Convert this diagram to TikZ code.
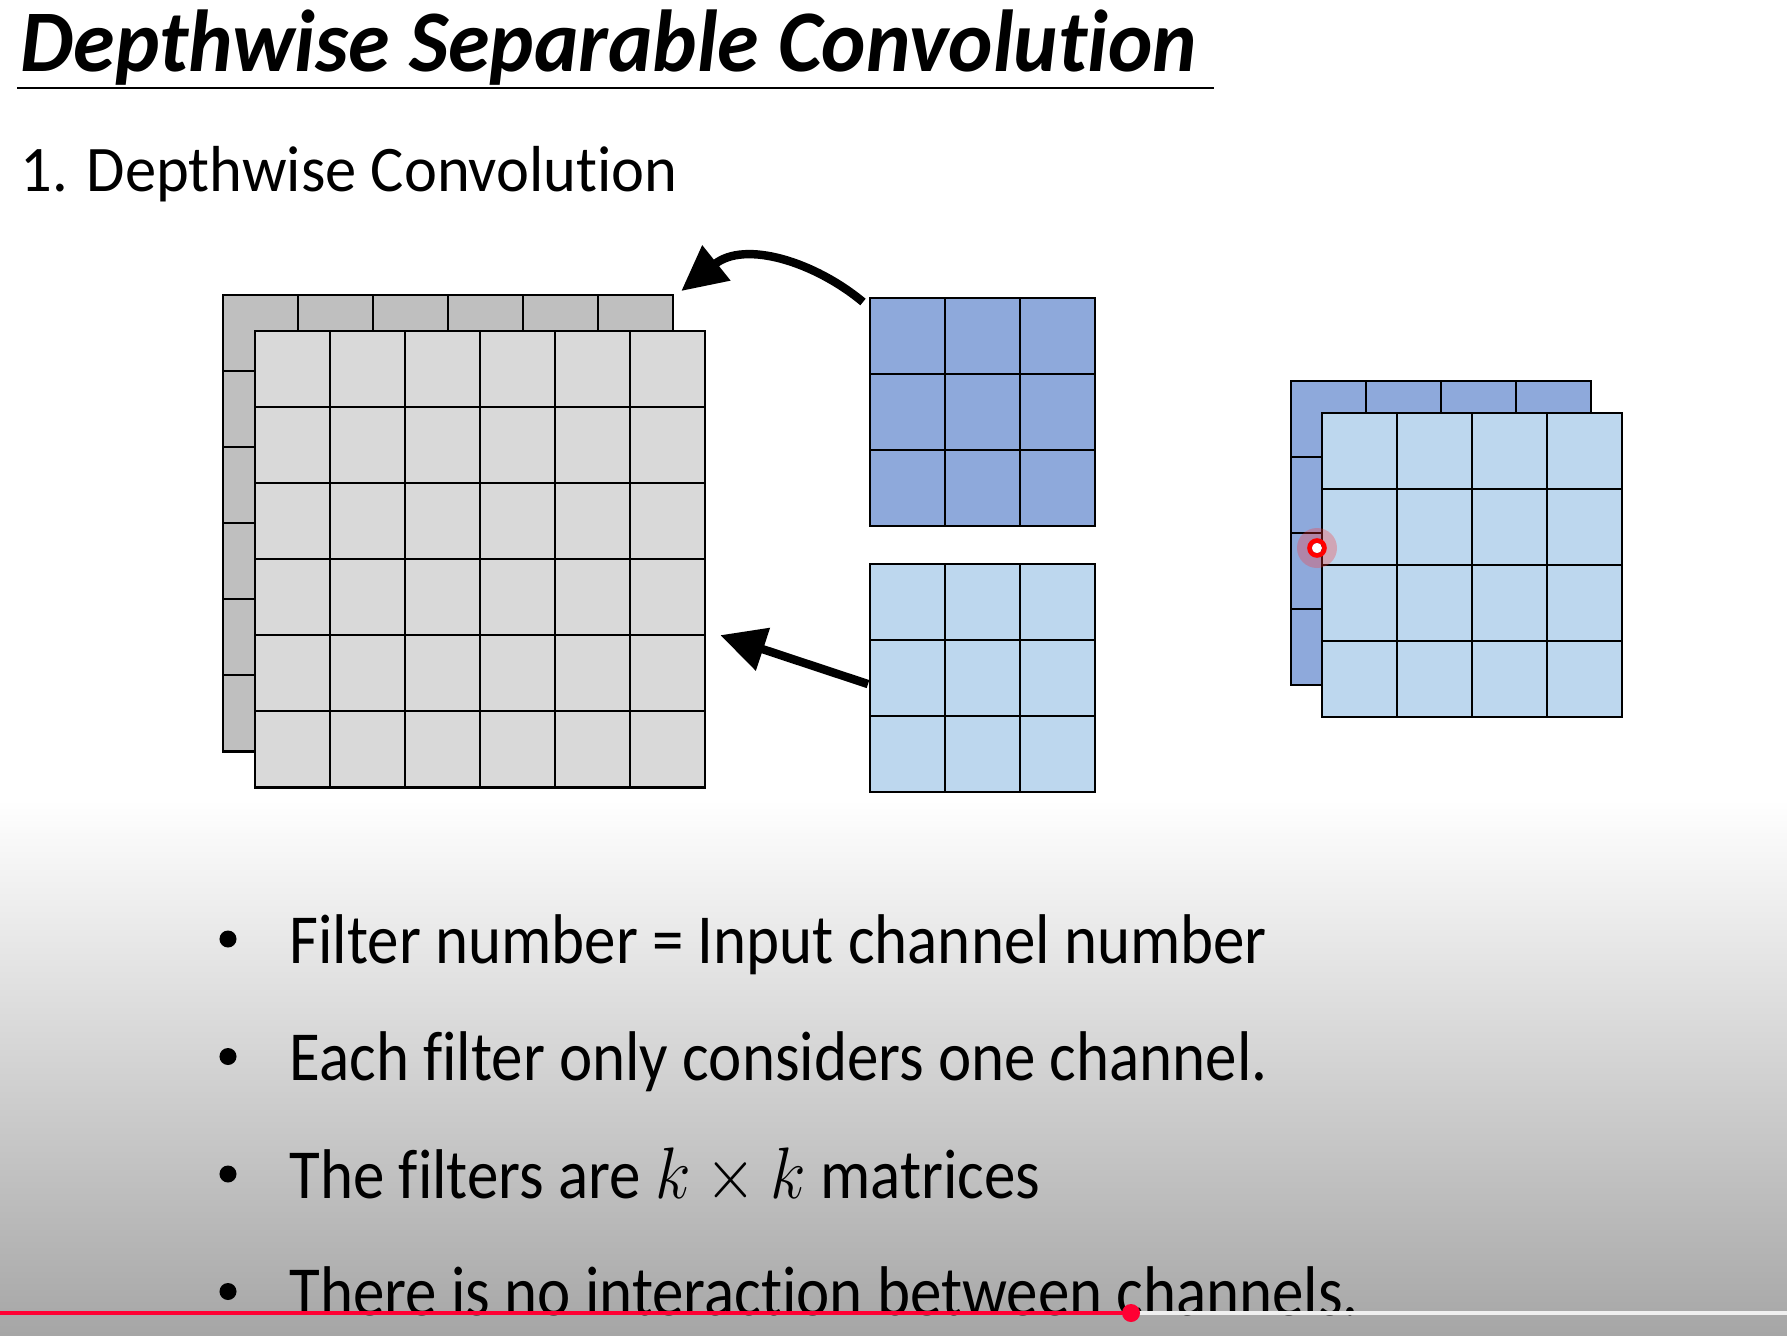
\documentclass[tikz,border=0pt]{standalone}
\usepackage{fontspec}
\setmainfont{Carlito}[Ligatures=NoCommon]
\usepackage{xcolor}
\usepackage{tikz}
\usetikzlibrary{arrows.meta}
\usetikzlibrary{positioning}

\definecolor{grayback}{HTML}{BFBFBF}
\definecolor{grayfront}{HTML}{D9D9D9}
\definecolor{bluedark}{HTML}{8EA9DB}
\definecolor{bluelight}{HTML}{BDD7EE}
\definecolor{ytred}{HTML}{FF0033}

% feature map: name, x, y, columns, rows, fill
\newcommand{\fmap}[6]{%
  \node[fmapbox, fill=#6, minimum width=#4*0.75cm, minimum height=#5*0.76cm] (#1) at (#2,#3) {};
  \pgfmathtruncatemacro{\lastc}{#4-1}
  \pgfmathtruncatemacro{\lastr}{#5-1}
  \foreach \c in {1,...,\lastc}
    \draw[cellline] (#2+\c*75,#3) -- (#2+\c*75,#3+#5*76);
  \foreach \r in {1,...,\lastr}
    \draw[cellline] (#2,#3+\r*76) -- (#2+#4*75,#3+\r*76);
  \node[fmapbox, fill=none, minimum width=#4*0.75cm, minimum height=#5*0.76cm] at (#2,#3) {};
}

\begin{document}
\begin{tikzpicture}[
      x=0.01cm, y=-0.01cm,
      fmapbox/.style={draw=black, line width=0.7pt, inner sep=0pt, outer sep=0pt, anchor=north west},
      cellline/.style={black, line width=0.7pt},
      fatarrow/.style={line width=2.4pt, -{Triangle[length=4.5mm, width=4.3mm]}},
      lbl/.style={anchor=base west, inner sep=0pt},
      bullettxt/.style={lbl, xscale=0.895, font=\fontsize{20}{24}\selectfont},
      bulletdot/.style={circle, fill=black, inner sep=0pt, minimum size=0.17cm}
    ]
    % Hintergrund
    \useasboundingbox (0,0) rectangle (1787,1336);
    \fill[white] (0,0) rectangle (1787,1336);
    \shade[top color=white, bottom color=black!35] (0,800) rectangle (1787,1336);

    % Titel
    \node[lbl, xscale=0.958, font=\fontsize{25}{30}\selectfont\bfseries\itshape] (title) at (20,71) {Depthwise Separable Convolution};
    \draw[line width=0.6pt] (17,88) -- (1214,88);
    \node[lbl, xscale=0.96, font=\fontsize{18.5}{22}\selectfont] (sub) at (20,191) {1. Depthwise Convolution};

    % Eingabe
    \fmap{inback}{223}{295}{6}{6}{grayback}
    \fmap{infront}{255}{331}{6}{6}{grayfront}

    % Filter
    \fmap{filtA}{870}{298}{3}{3}{bluedark}
    \fmap{filtB}{870}{564}{3}{3}{bluelight}

    % Ausgabe
    \fmap{outback}{1291}{381}{4}{4}{bluedark}
    \fmap{outfront}{1322}{413}{4}{4}{bluelight}

    % Pfeile
    \draw[fatarrow] ([shift={(-7,4)}]filtA.north west) .. controls (815,262) and (745,240) .. ([shift={(8,-4)}]inback.north east);
    \draw[fatarrow] ([shift={(-2,6)}]filtB.west) -- ([shift={(15,76)}]infront.east);

    % Zeiger
    \fill[red!80, opacity=0.3] (1317,548) circle (20);
    \fill[white] (1317,548) circle (5);
    \draw[red, line width=1.3pt] (1317,548) circle (7.5);

    % Stichpunkte
    \foreach \txt [count=\i] in {{Filter number = Input channel number},
                                 {Each filter only considers one channel.},
                                 {The filters are $k \times k$ matrices},
                                 {There is no interaction between channels.}}
    {
      \node[bulletdot] (dot\i) at (228,963+\i*117.5-117.5-24) {};
      \node[bullettxt] (item\i) at (289,963+\i*117.5-117.5) {\txt};
    }

    % Fortschrittsbalken
    \draw[white!88!gray, line width=0.04cm] (1131,1313) -- (1787,1313);
    \draw[ytred, line width=0.045cm] (0,1313) -- (1131,1313);
    \fill[ytred] (1131,1313) circle (9);
  \end{tikzpicture}
\end{document}
